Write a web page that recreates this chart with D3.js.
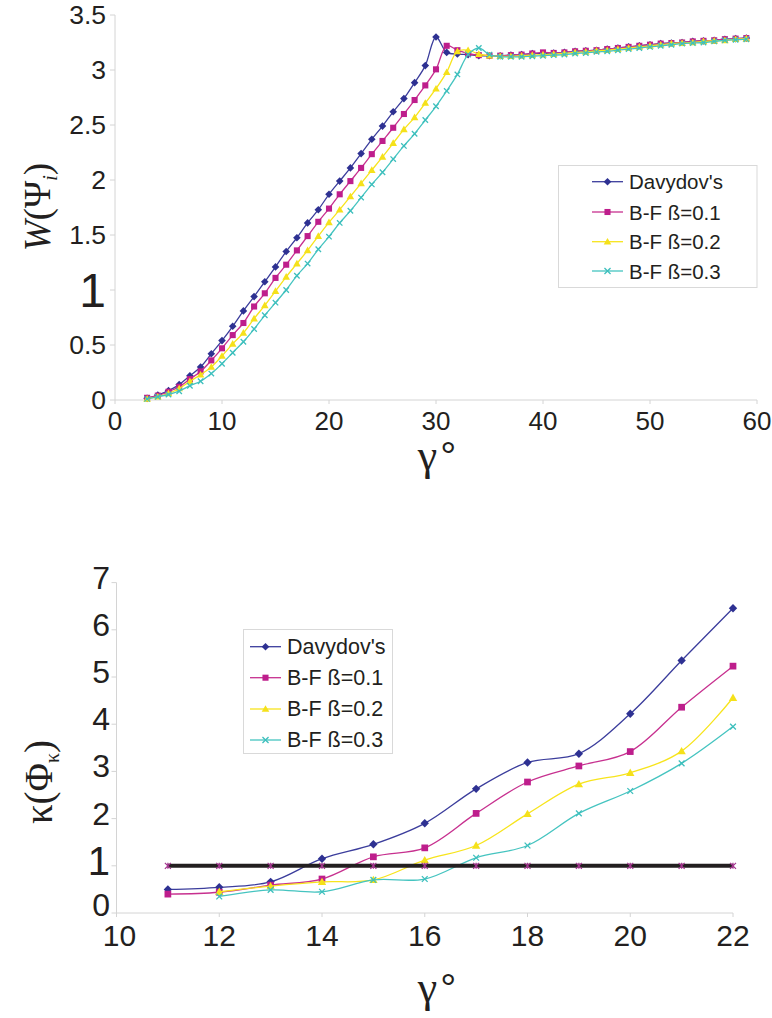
<!DOCTYPE html>
<html><head><meta charset="utf-8">
<script src="https://cdn.jsdelivr.net/npm/d3@7"></script>
<style>
html,body{margin:0;padding:0;background:#fff;}
svg{display:block;}
text{font-family:"Liberation Sans",Arial,sans-serif;fill:#231f20;}
</style></head>
<body>
<svg id="chart" width="772" height="1018"></svg>
<script>
// ---------- DATA: top chart ----------
const topX = [3,4,5,6,7,8,9,10,11,12,13,14,15,16,17,18,19,20,21,22,23,24,25,26,27,28,29,30,31,32,33,34,35,36,37,38,39,40,41,42,43,44,45,46,47,48,49,50,51,52,53,54,55,56,57,58,59];
const topDavydov = [0.015,0.045,0.085,0.14,0.22,0.30,0.42,0.54,0.67,0.81,0.94,1.075,1.21,1.35,1.475,1.61,1.73,1.87,1.99,2.11,2.24,2.37,2.49,2.62,2.74,2.885,3.04,3.30,
  3.16,3.145,3.14,3.13,3.13,3.13,3.135,3.14,3.15,3.15,3.155,3.16,3.17,3.175,3.18,3.19,3.20,3.21,3.22,3.23,3.24,3.245,3.25,3.26,3.265,3.27,3.28,3.285,3.29];
const topBF1 = [0.02,0.04,0.075,0.12,0.19,0.26,0.36,0.47,0.59,0.70,0.85,0.97,1.11,1.23,1.36,1.49,1.62,1.74,1.87,1.99,2.11,2.235,2.355,2.475,2.60,2.727,2.86,3.006,3.22,
  3.18,3.15,3.135,3.13,3.13,3.135,3.14,3.15,3.16,3.155,3.16,3.17,3.175,3.18,3.19,3.20,3.21,3.22,3.23,3.24,3.245,3.25,3.26,3.265,3.27,3.28,3.285,3.29];
const topBF2 = [0.01,0.03,0.06,0.105,0.17,0.23,0.30,0.40,0.51,0.61,0.74,0.86,0.99,1.12,1.24,1.36,1.49,1.615,1.73,1.85,1.97,2.09,2.21,2.335,2.46,2.57,2.70,2.83,2.98,3.17,3.18,
  3.145,3.13,3.125,3.125,3.13,3.135,3.14,3.145,3.15,3.16,3.165,3.175,3.18,3.19,3.20,3.21,3.22,3.23,3.24,3.245,3.25,3.26,3.265,3.27,3.28,3.285];
const topBF3 = [0.01,0.03,0.05,0.08,0.13,0.17,0.24,0.33,0.43,0.53,0.645,0.77,0.885,1.0,1.13,1.24,1.37,1.485,1.61,1.72,1.84,1.96,2.07,2.19,2.31,2.42,2.545,2.67,2.81,2.96,3.14,3.20,
  3.14,3.12,3.12,3.12,3.125,3.13,3.135,3.14,3.15,3.155,3.165,3.17,3.18,3.19,3.20,3.21,3.22,3.23,3.24,3.245,3.25,3.26,3.27,3.275,3.28];
const topYTicks = [0,0.5,1,1.5,2,2.5,3,3.5];
const topYTickLabels = ["0","0.5","1","1.5","2","2.5","3","3.5"];
const topXTicks = [0,10,20,30,40,50,60];

// ---------- DATA: bottom chart ----------
const botX = [11,12,13,14,15,16,17,18,19,20,21,22];
const botDavydov = [0.50,0.545,0.66,1.15,1.455,1.90,2.63,3.19,3.375,4.22,5.35,6.455];
const botBF1 = [0.40,0.44,0.59,0.72,1.19,1.38,2.11,2.775,3.115,3.42,4.36,5.23];
const botBF2 = [null,0.45,0.57,0.66,0.70,1.12,1.43,2.10,2.73,2.97,3.43,4.56];
const botBF3 = [null,0.35,0.49,0.45,0.70,0.72,1.17,1.43,2.11,2.585,3.17,3.95];
const botRef = [1,1,1,1,1,1,1,1,1,1,1,1];
const botYTicks = [0,1,2,3,4,5,6,7];
const botXTicks = [10,12,14,16,18,20,22];

const seriesNames = ["Davydov's","B-F ß=0.1","B-F ß=0.2","B-F ß=0.3"];
const lineColors = ["#3b3d9c","#c7308f","#f7e41c","#45c4c0"];
const markColors = ["#2e3192","#be1e8c","#f5e11a","#3dbfbd"];
const markTypes = ["diamond","square","triangle","x"];

// ---------- helpers ----------
const svg = d3.select("#chart");
const axisColor = "#d4d4d4";

function drawMarker(g, type, x, y, color, s){
  if(type==="diamond"){
    g.append("path").attr("d",`M${x},${y-s}L${x+s},${y}L${x},${y+s}L${x-s},${y}Z`).attr("fill",color);
  } else if(type==="square"){
    g.append("rect").attr("x",x-s*0.8).attr("y",y-s*0.8).attr("width",s*1.6).attr("height",s*1.6).attr("fill",color);
  } else if(type==="triangle"){
    g.append("path").attr("d",`M${x},${y-s}L${x+s},${y+s*0.75}L${x-s},${y+s*0.75}Z`).attr("fill",color);
  } else if(type==="x"){
    g.append("path").attr("d",`M${x-s*0.8},${y-s*0.8}L${x+s*0.8},${y+s*0.8}M${x-s*0.8},${y+s*0.8}L${x+s*0.8},${y-s*0.8}`)
      .attr("stroke",color).attr("stroke-width",1.3).attr("fill","none");
  } else if(type==="star"){
    g.append("path").attr("d",`M${x-s},${y-s}L${x+s},${y+s}M${x-s},${y+s}L${x+s},${y-s}M${x},${y-s}L${x},${y+s}`)
      .attr("stroke",color).attr("stroke-width",1.2).attr("fill","none");
  }
}

function drawSeries(g, xs, ys, xScale, yScale, color, mcolor, mtype, msize){
  const pts = xs.map((x,i)=>[x,ys[i]]).filter(d=>d[1]!==null);
  const line = d3.line().x(d=>xScale(d[0])).y(d=>yScale(d[1])).curve(d3.curveCatmullRom.alpha(0.5));
  g.append("path").attr("d",line(pts)).attr("fill","none").attr("stroke",color).attr("stroke-width",1.3);
  const mg = g.append("g");
  pts.forEach(d=>drawMarker(mg, mtype, xScale(d[0]), yScale(d[1]), mcolor, msize));
}

function gammaTitle(g, x, y){
  const t = g.append("text").attr("x",x).attr("y",y).attr("text-anchor","middle");
  t.append("tspan").style("font-family","'Liberation Serif','Times New Roman',serif").attr("font-size",44).text("γ");
  t.append("tspan").attr("font-size",40).attr("dx",3).text("°");
}

// ---------- TOP CHART ----------
{
  const x = d3.scaleLinear().domain([0,60]).range([115,757]);
  const y = d3.scaleLinear().domain([0,3.5]).range([400,15]);
  const g = svg.append("g");
  g.append("line").attr("x1",x(0)).attr("x2",x(0)).attr("y1",y(0)).attr("y2",y(3.5)).attr("stroke",axisColor);
  g.append("line").attr("x1",x(0)).attr("x2",x(60)).attr("y1",y(0)).attr("y2",y(0)).attr("stroke",axisColor);
  topYTicks.forEach((t,i)=>{
    g.append("line").attr("x1",x(0)-5).attr("x2",x(0)).attr("y1",y(t)).attr("y2",y(t)).attr("stroke",axisColor);
    const big = topYTickLabels[i]==="1";
    g.append("text").attr("x",106).attr("y",y(t)).attr("text-anchor","end").attr("dominant-baseline","central")
      .attr("font-size",big?48:26.5).text(topYTickLabels[i]);
  });
  topXTicks.forEach(t=>{
    g.append("line").attr("x1",x(t)).attr("x2",x(t)).attr("y1",y(0)).attr("y2",y(0)+4).attr("stroke",axisColor);
    g.append("text").attr("x",x(t)).attr("y",421).attr("text-anchor","middle").attr("dominant-baseline","central")
      .attr("font-size",26).text(t);
  });
  const data = [topDavydov, topBF1, topBF2, topBF3];
  data.forEach((ys,i)=>drawSeries(g, topX, ys, x, y, lineColors[i], markColors[i], markTypes[i], i===3?3.4:3.8));
  gammaTitle(g, 437, 470);
  const yt = g.append("text").attr("transform","translate(50,207) rotate(-90)").attr("text-anchor","middle")
    .style("font-family","'Liberation Serif','Times New Roman',serif").attr("font-size",37);
  yt.append("tspan").attr("font-style","italic").text("W");
  yt.append("tspan").text("(Ψ");
  yt.append("tspan").attr("font-style","italic").attr("font-size",20).attr("dy",7).text("i");
  yt.append("tspan").attr("dy",-7).text(")");
  const lg = g.append("g");
  lg.append("rect").attr("x",558.5).attr("y",165.5).attr("width",198.5).attr("height",122).attr("fill","#fff").attr("stroke","#d9d9d9");
  const rows = [181.7,212,241.7,271];
  seriesNames.forEach((n,i)=>{
    lg.append("line").attr("x1",592).attr("x2",623).attr("y1",rows[i]).attr("y2",rows[i]).attr("stroke",lineColors[i]).attr("stroke-width",1.3);
    drawMarker(lg, markTypes[i], 607.5, rows[i], markColors[i], 3.8);
    lg.append("text").attr("x",629).attr("y",rows[i]).attr("dominant-baseline","central").attr("font-size",20.5).text(n);
  });
}

// ---------- BOTTOM CHART ----------
{
  const x = d3.scaleLinear().domain([10,22]).range([116.5,733]);
  const y = d3.scaleLinear().domain([0,7]).range([913,582.6]);
  const g = svg.append("g");
  g.append("line").attr("x1",x(10)).attr("x2",x(10)).attr("y1",y(0)).attr("y2",y(7)).attr("stroke",axisColor);
  g.append("line").attr("x1",x(10)).attr("x2",x(22)).attr("y1",y(0)).attr("y2",y(0)).attr("stroke",axisColor);
  botYTicks.forEach(t=>{
    g.append("line").attr("x1",x(10)-5).attr("x2",x(10)).attr("y1",y(t)).attr("y2",y(t)).attr("stroke",axisColor);
    g.append("text").attr("x",110).attr("y",y(t)-(t===0?8:5)).attr("text-anchor","end").attr("dominant-baseline","central")
      .attr("font-size",t===1?40:32).text(t);
  });
  botXTicks.forEach(t=>{
    g.append("line").attr("x1",x(t)).attr("x2",x(t)).attr("y1",y(0)).attr("y2",y(0)+4).attr("stroke",axisColor);
    g.append("text").attr("x",x(t)+(t===10?3:0)).attr("y",935).attr("text-anchor","middle").attr("dominant-baseline","central")
      .attr("font-size",30).text(t);
  });
  const data = [botDavydov, botBF1, botBF2, botBF3];
  data.forEach((ys,i)=>drawSeries(g, botX, ys, x, y, lineColors[i], markColors[i], markTypes[i], i===3?3.6:4.2));
  const refLine = d3.line().x((d,i)=>x(botX[i])).y(d=>y(d));
  g.append("path").attr("d",refLine(botRef)).attr("fill","none").attr("stroke","#231f20").attr("stroke-width",4);
  botRef.forEach((v,i)=>drawMarker(g,"star",x(botX[i]),y(v),"#a3358f",3));
  gammaTitle(g, 437, 1002);
  const yt = g.append("text").attr("transform","translate(52,782) rotate(-90)").attr("text-anchor","middle")
    .style("font-family","'Liberation Serif','Times New Roman',serif").attr("font-size",39);
  yt.append("tspan").text("κ(Φ");
  yt.append("tspan").attr("font-size",20).attr("dy",7).text("κ");
  yt.append("tspan").attr("dy",-7).text(")");
  const lg = g.append("g");
  lg.append("rect").attr("x",243.5).attr("y",629.5).attr("width",149).attr("height",124).attr("fill","#fff").attr("stroke","#d9d9d9");
  const rows = [646.7,677.7,709,740];
  seriesNames.forEach((n,i)=>{
    lg.append("line").attr("x1",250).attr("x2",281).attr("y1",rows[i]).attr("y2",rows[i]).attr("stroke",lineColors[i]).attr("stroke-width",1.3);
    drawMarker(lg, markTypes[i], 265.5, rows[i], markColors[i], 3.8);
    lg.append("text").attr("x",287).attr("y",rows[i]).attr("dominant-baseline","central").attr("font-size",21.5).text(n);
  });
}
</script>
</body></html>
